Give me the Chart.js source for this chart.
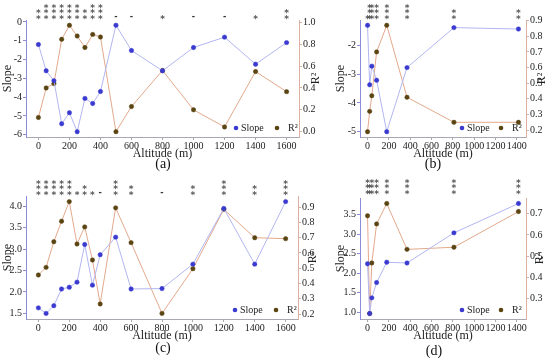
<!DOCTYPE html>
<html>
<head>
<meta charset="utf-8">
<script src="https://cdn.jsdelivr.net/npm/chart.js@4.4.0/dist/chart.umd.min.js"></script>
<style>
    body { margin: 0; background: #fff; width: 550px; height: 358px; position: relative; overflow: hidden; font-family: "Liberation Serif", serif; }
    canvas { position: absolute; }
    .cap { position: absolute; font-size: 14px; line-height: 16px; width: 40px; margin-left: -20px; text-align: center; color: #111; }
</style>
</head>
<body>
<canvas id="chartA" width="322" height="162" style="left:0px;top:0px"></canvas>
<canvas id="chartB" width="217" height="162" style="left:333px;top:0px"></canvas>
<canvas id="chartC" width="322" height="174" style="left:0px;top:170px"></canvas>
<canvas id="chartD" width="217" height="174" style="left:333px;top:170px"></canvas>
<div class="cap" style="left:163px;top:156px">(a)</div>
<div class="cap" style="left:433px;top:156px">(b)</div>
<div class="cap" style="left:163px;top:340px">(c)</div>
<div class="cap" style="left:434px;top:343px">(d)</div>

<script>
"use strict"

// altitudes
const altitudesAC = [0, 50, 100, 150, 200, 250, 300, 350, 400, 500, 600, 800, 1000, 1200, 1400, 1600];
const altitudesBD = [0, 20, 40, 85, 180, 370, 810, 1415];

// (a)
const slopeA = [-1.2, -2.6, -3.13, -5.42, -4.83, -5.84, -4.07, -4.34, -3.7, -0.18, -1.52, -2.6, -1.36, -0.81, -2.25, -1.1];
const r2A = [0.13, 0.40, 0.44, 0.845, 0.973, 0.875, 0.77, 0.89, 0.866, 0.0, 0.23, 0.56, 0.2, 0.043, 0.55, 0.366];
const starsA = ['**', '***', '***', '***', '***', '***', '**', '***', '***', '-', '-', '*', '-', '-', '*', '**'];

// (b)
const slopeB = [-1.3, -3.37, -2.72, -3.21, -5.0, -2.77, -1.38, -1.43];
const r2B = [0.19, 0.32, 0.42, 0.70, 0.87, 0.41, 0.25, 0.25];
const starsB = ['*', '***', '***', '***', '***', '***', '**', '**'];

// (c)
const slopeC = [1.63, 1.5, 1.68, 2.07, 2.11, 2.23, 3.11, 2.16, 2.87, 3.28, 2.07, 2.08, 2.65, 3.95, 2.65, 4.11];
const r2C = [0.456, 0.506, 0.674, 0.808, 0.937, 0.659, 0.771, 0.554, 0.266, 0.896, 0.668, 0.204, 0.497, 0.886, 0.70, 0.694];
const starsC = ['***', '***', '***', '***', '***', '*', '**', '*', '-', '***', '**', '-', '**', '***', '**', '***'];

// (d)
const slopeD = [2.24, 0.97, 1.37, 1.76, 2.28, 2.26, 3.03, 3.78];
const r2D = [0.69, 0.23, 0.468, 0.652, 0.748, 0.532, 0.542, 0.71];
const starsD = ['***', '**', '***', '***', '***', '***', '***', '***'];

// tick labels
const xTicksAC = [0, 200, 400, 600, 800, 1000, 1200, 1400, 1600];
const xTicksBD = [0, 200, 400, 600, 800, 1000, 1200, 1400];
const slopeTicksA = [-6, -5, -4, -3, -2, -1, 0];
const r2TicksA = [0.0, 0.2, 0.4, 0.6, 0.8, 1.0];
const slopeTicksB = [-5, -4, -3, -2];
const r2TicksB = [0.2, 0.3, 0.4, 0.5, 0.6, 0.7, 0.8, 0.9];
const slopeTicksC = [1.5, 2.0, 2.5, 3.0, 3.5, 4.0];
const r2TicksC = [0.2, 0.3, 0.4, 0.5, 0.6, 0.7, 0.8, 0.9];
const slopeTicksD = [1.0, 1.5, 2.0, 2.5, 3.0, 3.5];
const r2TicksD = [0.3, 0.4, 0.5, 0.6, 0.7];


const colors = {
    slopeDot: '#3a3ad0',
    slopeLine: '#b2b6f0',
    r2Dot: '#5a4512',
    r2Line: '#e3a98c',
    leftSpine: '#8c8cdc',
    rightSpine: '#dcb0a0',
    bottomSpine: '#a8a8b4',
    text: '#222',
    star: '#585858'
};

const serif = '"Liberation Serif", "Times New Roman", serif';


// matplotlib style 5% margins
function margins(values)
{
    const lo = Math.min(...values);
    const hi = Math.max(...values);
    const pad = (hi - lo) * 0.05;
    return { min: lo - pad, max: hi + pad };
}


const extras =
{
    id: 'extras',
    afterDraw(chart, args, opts)
    {
        const ctx = chart.ctx;
        const area = chart.chartArea;
        const xs = chart.scales.x;

        ctx.save();

        // significance stars above the plot
        ctx.textAlign = 'center';
        ctx.textBaseline = 'middle';
        opts.stars.forEach((s, i) =>
        {
            const px = xs.getPixelForValue(opts.altitudes[i]);
            const y0 = area.top - opts.starGap;
            if (s === '-')
            {
                ctx.font = 'bold 8px "DejaVu Sans"';
                ctx.fillStyle = '#333';
                ctx.fillText('-', px, y0);
                return;
            }
            ctx.font = 'bold 9px "DejaVu Sans"';
            ctx.fillStyle = colors.star;
            for (let k = 0; k < s.length; k++)
            {
                ctx.fillText('*', px, y0 - k * 5.3 + 2.2);
            }
        });

        // legend in lower right corner
        const ly = area.bottom - 9;
        ctx.font = '10px ' + serif;
        ctx.textAlign = 'left';
        ctx.fillStyle = colors.slopeDot;
        ctx.beginPath();
        ctx.arc(area.right - opts.legendSlope, ly, 2.3, 0, Math.PI * 2);
        ctx.fill();
        ctx.fillStyle = colors.text;
        ctx.fillText('Slope', area.right - opts.legendSlope + 5, ly);
        ctx.fillStyle = colors.r2Dot;
        ctx.beginPath();
        ctx.arc(area.right - opts.legendR2, ly, 2.3, 0, Math.PI * 2);
        ctx.fill();
        ctx.fillStyle = colors.text;
        ctx.fillText('R\u00B2', area.right - opts.legendR2 + 11, ly);

        // right axis title, reading bottom to top
        ctx.translate(area.right + opts.r2TitleGap, (area.top + area.bottom) / 2);
        ctx.rotate(-Math.PI / 2);
        ctx.font = '12px ' + serif;
        ctx.textAlign = 'center';
        ctx.fillStyle = colors.text;
        ctx.fillText('R\u00B2', 0, 0);

        ctx.restore();
    }
};


function panel(canvasId, p)
{
    const xRange = margins(p.altitudes);
    const slopeRange = margins(p.slope);
    const r2Range = margins(p.r2);

    const tickFont = { family: serif, size: 10 };

    const config =
    {
        type: 'line',
        data:
        {
            datasets:
            [{
                label: 'Slope',
                data: p.altitudes.map((a, i) => ({ x: a, y: p.slope[i] })),
                yAxisID: 'y',
                borderColor: colors.slopeLine,
                backgroundColor: colors.slopeDot,
                pointBackgroundColor: colors.slopeDot,
                pointBorderColor: colors.slopeDot,
                pointRadius: 2.2,
                pointBorderWidth: 0.5,
                borderWidth: 1,
                tension: 0
            },
            {
                label: 'R\u00B2',
                data: p.altitudes.map((a, i) => ({ x: a, y: p.r2[i] })),
                yAxisID: 'y1',
                borderColor: colors.r2Line,
                backgroundColor: colors.r2Dot,
                pointBackgroundColor: colors.r2Dot,
                pointBorderColor: colors.r2Dot,
                pointRadius: 2.2,
                pointBorderWidth: 0.5,
                borderWidth: 1,
                tension: 0
            }]
        },
        options:
        {
            responsive: false,
            animation: false,
            events: [],
            layout: { padding: { top: p.top, left: 0, right: 0, bottom: 0 } },
            plugins:
            {
                legend: { display: false },
                tooltip: { enabled: false },
                extras:
                {
                    altitudes: p.altitudes,
                    stars: p.stars,
                    starGap: p.starGap,
                    legendSlope: p.legendSlope,
                    legendR2: p.legendR2,
                    r2TitleGap: p.r2TitleGap
                }
            },
            scales:
            {
                x:
                {
                    type: 'linear',
                    min: xRange.min,
                    max: xRange.max,
                    afterBuildTicks: s => { s.ticks = p.xTicks.map(v => ({ value: v })); },
                    afterFit: s => { s.height = p.xHeight; },
                    ticks: { font: tickFont, color: colors.text, padding: 0, maxRotation: 0, callback: v => String(v) },
                    grid: { display: true, drawOnChartArea: false, tickLength: 3, color: colors.bottomSpine },
                    border: { display: true, color: colors.bottomSpine },
                    title: { display: true, text: 'Altitude (m)', font: { family: serif, size: 12 }, color: colors.text, padding: { top: 0, bottom: 1 } }
                },
                y:
                {
                    position: 'left',
                    min: slopeRange.min,
                    max: slopeRange.max,
                    afterBuildTicks: s => { s.ticks = p.slopeTicks.map(v => ({ value: v })); },
                    afterFit: s => { s.width = p.leftWidth; },
                    ticks: { font: tickFont, color: colors.text, padding: 1, callback: p.slopeFormat },
                    grid: { display: true, drawOnChartArea: false, tickLength: 3, color: colors.leftSpine },
                    border: { display: true, color: colors.leftSpine },
                    title: { display: true, text: 'Slope', font: { family: serif, size: 12 }, color: colors.text, padding: { top: 1, bottom: 0 } }
                },
                y1:
                {
                    position: 'right',
                    min: r2Range.min,
                    max: r2Range.max,
                    afterBuildTicks: s => { s.ticks = p.r2Ticks.map(v => ({ value: v })); },
                    afterFit: s => { s.width = p.rightWidth; },
                    ticks: { font: tickFont, color: colors.text, padding: 1, callback: v => v.toFixed(1) },
                    grid: { display: true, drawOnChartArea: false, tickLength: 3, color: colors.rightSpine },
                    border: { display: true, color: colors.rightSpine }
                }
            }
        },
        plugins: [extras]
    };

    return new Chart(document.getElementById(canvasId), config);
}


window.onload = () =>
{
    const intFormat = v => String(Math.round(v));
    const oneDecimal = v => v.toFixed(1);

    panel('chartA',
    {
        altitudes: altitudesAC, slope: slopeA, r2: r2A, stars: starsA,
        xTicks: xTicksAC, slopeTicks: slopeTicksA, r2Ticks: r2TicksA, slopeFormat: intFormat,
        top: 20, xHeight: 25, leftWidth: 26, rightWidth: 23,
        starGap: 3, legendSlope: 63, legendR2: 22, r2TitleGap: 17
    });

    panel('chartB',
    {
        altitudes: altitudesBD, slope: slopeB, r2: r2B, stars: starsB,
        xTicks: xTicksBD, slopeTicks: slopeTicksB, r2Ticks: r2TicksB, slopeFormat: intFormat,
        top: 20, xHeight: 25, leftWidth: 27, rightWidth: 24,
        starGap: 3, legendSlope: 64, legendR2: 25, r2TitleGap: 16
    });

    panel('chartC',
    {
        altitudes: altitudesAC, slope: slopeC, r2: r2C, stars: starsC,
        xTicks: xTicksAC, slopeTicks: slopeTicksC, r2Ticks: r2TicksC, slopeFormat: oneDecimal,
        top: 26, xHeight: 25, leftWidth: 26, rightWidth: 24,
        starGap: 3, legendSlope: 63, legendR2: 22, r2TitleGap: 15
    });

    panel('chartD',
    {
        altitudes: altitudesBD, slope: slopeD, r2: r2D, stars: starsD,
        xTicks: xTicksBD, slopeTicks: slopeTicksD, r2Ticks: r2TicksD, slopeFormat: oneDecimal,
        top: 28, xHeight: 25, leftWidth: 27, rightWidth: 24,
        starGap: 6, legendSlope: 64, legendR2: 25, r2TitleGap: 14
    });
}
</script>
</body>
</html>
